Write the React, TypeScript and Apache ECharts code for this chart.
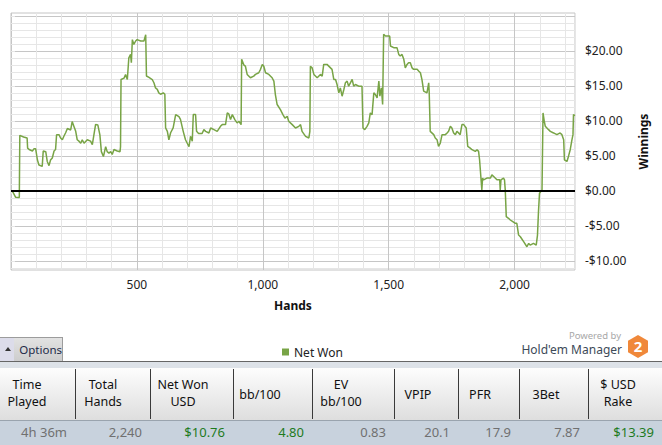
import React, { useEffect, useRef } from 'react';
import * as echarts from 'echarts';

// cumulative net won (hand number, dollars)
const hands = [
  0, 5, 18, 33, 35, 50, 64, 66, 72, 85, 91, 98, 105, 111, 124, 128, 138, 144, 151, 157,
  164, 171, 177, 181, 191, 197, 204, 210, 217, 224, 237, 243, 250, 257, 263, 270, 277, 283, 290, 303,
  316, 323, 336, 345, 353, 359, 367, 376, 382, 389, 396, 402, 409, 422, 433, 435, 437, 449, 455, 462,
  468, 475, 478, 482, 488, 495, 501, 515, 528, 535, 538, 548, 561, 568, 574, 581, 587, 594, 605, 611,
  614, 621, 627, 634, 644, 654, 667, 673, 684, 693, 707, 713, 720, 724, 733, 737, 745, 759, 766, 773,
  786, 793, 806, 819, 832, 839, 852, 859, 865, 872, 879, 889, 898, 905, 914, 916, 925, 931, 938, 951,
  964, 971, 984, 991, 998, 1004, 1011, 1024, 1037, 1044, 1050, 1057, 1070, 1080, 1088, 1097, 1103, 1117, 1130, 1143,
  1150, 1156, 1170, 1183, 1187, 1189, 1196, 1203, 1216, 1229, 1236, 1242, 1255, 1269, 1275, 1282, 1289, 1295, 1302, 1308,
  1315, 1322, 1328, 1335, 1341, 1348, 1355, 1361, 1368, 1381, 1394, 1398, 1405, 1414, 1421, 1427, 1434, 1441, 1447, 1454,
  1461, 1465, 1471, 1476, 1480, 1487, 1504, 1507, 1520, 1533, 1540, 1546, 1553, 1560, 1566, 1573, 1579, 1586, 1593, 1599,
  1613, 1619, 1626, 1632, 1639, 1652, 1659, 1661, 1665, 1679, 1685, 1692, 1698, 1705, 1712, 1725, 1732, 1738, 1745, 1751,
  1758, 1765, 1771, 1784, 1791, 1798, 1808, 1814, 1824, 1831, 1844, 1851, 1857, 1861, 1866, 1870, 1873, 1877, 1890, 1904,
  1910, 1917, 1930, 1941, 1943, 1946, 1956, 1960, 1963, 1967, 1976, 1983, 1993, 2003, 2009, 2016, 2023, 2036, 2049, 2056,
  2062, 2075, 2086, 2091, 2095, 2099, 2109, 2113, 2118, 2122, 2135, 2142, 2155, 2168, 2181, 2188, 2195, 2198, 2208, 2214,
  2221, 2228, 2232, 2234, 2240,
];
const winnings = [
  0, 0, -0.9, -0.96, 7.93, 7.7, 7.55, 6.1, 5.9, 5.7, 6.0, 6.0, 4.4, 3.7, 3.5, 5.7, 5.6, 4.2, 3.6, 4.4,
  4.7, 5.7, 5.9, 8.0, 8.0, 7.55, 7.3, 7.8, 8.3, 8.9, 8.7, 9.9, 9.2, 8.5, 7.3, 7.1, 6.8, 7.3, 6.8, 7.3,
  7.1, 6.6, 9.5, 9.4, 8.0, 5.6, 4.9, 6.3, 5.6, 5.4, 5.6, 5.2, 5.9, 5.7, 5.6, 6.3, 15.9, 16.1, 16.6, 15.9,
  19.0, 19.5, 18.3, 21.6, 20.9, 21.4, 21.6, 21.4, 21.4, 22.3, 16.4, 16.2, 15.9, 15.4, 14.7, 14.5, 14.0, 13.8, 14.0, 13.8,
  9.0, 8.5, 7.3, 8.3, 9.0, 10.9, 10.6, 10.2, 8.5, 7.3, 6.3, 7.8, 7.1, 10.9, 10.9, 8.5, 8.2, 8.2, 8.74, 8.5,
  8.27, 8.98, 8.74, 8.5, 9.22, 9.46, 9.46, 11.13, 10.98, 10.18, 10.89, 10.18, 9.7, 9.94, 9.46, 18.8, 17.96, 17.8, 16.63, 16.15,
  16.39, 16.63, 16.87, 17.35, 18.06, 17.8, 16.87, 16.63, 16.15, 15.67, 13.76, 12.33, 11.6, 10.89, 10.4, 10.65, 9.94, 9.46, 8.98, 9.22,
  9.46, 8.5, 7.79, 7.55, 8.5, 17.8, 17.56, 16.63, 16.15, 16.63, 16.39, 18.06, 18.06, 17.56, 17.35, 15.91, 15.91, 15.19, 14.0, 14.71,
  13.52, 14.48, 15.43, 15.67, 14.95, 15.43, 15.91, 14.95, 15.19, 14.95, 14.95, 8.98, 8.74, 9.22, 9.7, 11.13, 10.89, 14.0, 13.76, 13.28,
  15.67, 13.52, 14.71, 12.33, 22.36, 22.12, 22.12, 20.69, 20.45, 20.45, 19.49, 19.25, 19.49, 18.78, 17.56, 18.06, 18.3, 18.3, 17.56, 17.35,
  17.35, 17.11, 16.87, 15.91, 14.24, 14.0, 15.43, 14.0, 8.5, 8.03, 7.55, 7.31, 6.35, 6.83, 8.03, 8.03, 8.27, 8.5, 9.22, 8.98,
  8.27, 8.03, 8.5, 8.03, 9.46, 9.46, 8.98, 6.35, 6.11, 5.88, 5.64, 5.88, 5.64, 4.44, 2.05, 0.14, 1.82, 1.58, 1.82, 1.82,
  2.3, 2.05, 1.58, 1.58, 0.14, 1.58, 1.82, 1.58, 0.14, -3.68, -3.92, -4.16, -4.4, -4.64, -4.64, -6.31, -6.55, -7.26, -7.98, -7.5,
  -7.74, -7.5, -7.74, -6.31, -2.96, -0.33, 0.14, 11.13, 9.94, 9.22, 8.74, 8.5, 8.27, 8.03, 8.27, 8.03, 7.31, 4.44, 4.2, 4.92,
  5.88, 7.31, 8.03, 10.89, 10.76,
];

const yTicks = Array.from({ length: 37 }, (_, i) => i - 11);
const yLabels = [-10, -5, 0, 5, 10, 15, 20];

const headers = [
  { label: ['Time', 'Played'], cx: 27 },
  { label: ['Total', 'Hands'], cx: 103 },
  { label: ['Net Won', 'USD'], cx: 183 },
  { label: ['bb/100'], cx: 260 },
  { label: ['EV', 'bb/100'], cx: 341 },
  { label: ['VPIP'], cx: 418 },
  { label: ['PFR'], cx: 480 },
  { label: ['3Bet'], cx: 546 },
  { label: ['$ USD', 'Rake'], cx: 618 },
];
const colEdges = [75, 150, 233, 312, 394, 458, 519, 588, 662];
const stats = ['4h 36m', '2,240', '$10.76', '4.80', '0.83', '20.1', '17.9', '7.87', '$13.39'];
const statGreen = [false, false, true, true, false, false, false, false, true];

const FONT = '"Noto Sans", "Open Sans", sans-serif';
const GREEN = '#78a446';
const LIGHT = '#e6e6e6';
const DARK = '#c6c6c6';

const App: React.FC = () => {
  const chartRef = useRef<HTMLDivElement>(null);

  useEffect(() => {
    if (!chartRef.current) return;
    const chart = echarts.init(chartRef.current, undefined, { renderer: 'svg' });

    const option = {
      animation: false,
      textStyle: { fontFamily: FONT },
      grid: {
        left: 11, right: 87, top: 13, bottom: 92,
        show: true, borderColor: '#c4c4c4', borderWidth: 1,
      },
      legend: {
        data: ['Net Won'],
        left: 277, top: 341,
        icon: 'rect', itemWidth: 7, itemHeight: 7, itemGap: 6,
        textStyle: { fontSize: 12, color: '#222', fontFamily: FONT },
      },
      xAxis: {
        type: 'value',
        min: 0, max: 2240, interval: 100,
        name: 'Hands', nameLocation: 'middle', nameGap: 29,
        nameTextStyle: { fontWeight: 'bold', fontSize: 12, color: '#111', fontFamily: FONT },
        axisLine: { show: false },
        axisTick: { show: true, length: 3, lineStyle: { color: LIGHT } },
        axisLabel: {
          margin: 8, fontSize: 12, color: '#222',
          formatter: (v: number) => (v > 0 && v % 500 === 0 ? v.toLocaleString('en-US') : ''),
        },
        splitLine: { show: true, lineStyle: { color: [DARK, LIGHT, LIGHT, LIGHT, LIGHT], width: 1 } },
      },
      yAxis: {
        type: 'value', position: 'right',
        min: -11.3, max: 25.4,
        name: 'Winnings', nameLocation: 'middle', nameRotate: 90, nameGap: 52,
        nameTextStyle: { fontWeight: 'bold', fontSize: 12, color: '#111', fontFamily: FONT },
        axisLine: { show: false },
        axisTick: { show: true, length: 4, customValues: yTicks, lineStyle: { color: LIGHT } },
        axisLabel: {
          customValues: yLabels, margin: 10, fontSize: 12, color: '#222',
          formatter: (v: number) => (v < 0 ? '-$' : '$') + Math.abs(v).toFixed(2),
        },
        splitLine: { show: true, lineStyle: { color: [LIGHT, DARK, LIGHT, LIGHT, LIGHT], width: 1 } },
      },
      series: [
        {
          name: 'Net Won',
          type: 'line',
          data: hands.map((h, i) => [h, winnings[i]]),
          showSymbol: false,
          lineStyle: { color: GREEN, width: 1.5 },
          itemStyle: { color: GREEN },
          markLine: {
            silent: true, symbol: 'none', label: { show: false },
            lineStyle: { color: '#000', width: 2, type: 'solid' },
            data: [{ yAxis: 0 }],
          },
        },
      ],
    };

    chart.setOption(option);
    return () => {
      chart.dispose();
    };
  }, []);

  return (
    <div style={{ position: 'absolute', left: 0, top: 0, width: 662, height: 445, background: '#fff', overflow: 'hidden', fontFamily: FONT }}>
      <div ref={chartRef} style={{ position: 'absolute', left: 0, top: 0, width: 662, height: 362 }} />

      {/* options button */}
      <div style={{ position: 'absolute', left: 0, top: 337, width: 63, height: 24, border: '1px solid #9c9c9c', borderBottom: 'none', borderLeft: 'none', display: 'flex', boxSizing: 'border-box' }}>
        <div style={{ width: 16, background: '#dcdcea', position: 'relative' }}>
          <div style={{ position: 'absolute', left: 5, top: 9, width: 0, height: 0, borderLeft: '3px solid transparent', borderRight: '3px solid transparent', borderBottom: '4px solid #333' }} />
        </div>
        <div style={{ flex: 1, background: 'linear-gradient(#e2e2e2, #cdcdcd)', fontSize: 11.5, color: '#1c2a48', lineHeight: '23px', paddingLeft: 5 }}>Options</div>
      </div>

      {/* powered by */}
      <div style={{ position: 'absolute', right: 41, top: 330, fontSize: 9.5, color: '#a8a8a8', lineHeight: '12px' }}>Powered by</div>
      <div style={{ position: 'absolute', right: 40, top: 342, fontSize: 12, color: '#3d4a58', lineHeight: '15px' }}>Hold'em Manager</div>
      <svg style={{ position: 'absolute', left: 627, top: 335 }} width={22} height={23} viewBox="0 0 22 23">
        <polygon points="11,0 21,5.7 21,17.3 11,23 1,17.3 1,5.7" fill="#f0883a" />
        <text x={11} y={17} textAnchor="middle" fontSize={15} fontWeight="bold" fill="#fff" fontFamily={FONT}>2</text>
      </svg>

      {/* table */}
      <div style={{ position: 'absolute', left: 0, top: 361, width: 662, height: 1, background: '#666' }} />
      <div style={{ position: 'absolute', left: 0, top: 362, width: 662, height: 6, background: '#dde2e8' }} />
      <div style={{ position: 'absolute', left: 0, top: 368, width: 662, height: 52, background: 'linear-gradient(#fdfdfd, #dedede)' }} />
      {colEdges.slice(0, -1).map((x) => (
        <div key={x} style={{ position: 'absolute', left: x, top: 369, width: 1, height: 50, background: '#3a3a3a' }} />
      ))}
      {headers.map((h) => (
        <div key={h.label.join()} style={{ position: 'absolute', left: h.cx - 40, width: 80, top: h.label.length > 1 ? 376 : 386, textAlign: 'center', fontSize: 12.5, lineHeight: '17px', color: '#111' }}>
          {h.label.map((l) => <div key={l}>{l}</div>)}
        </div>
      ))}
      <div style={{ position: 'absolute', left: 0, top: 420, width: 662, height: 1, background: '#9aa4ae' }} />
      <div style={{ position: 'absolute', left: 0, top: 421, width: 662, height: 24, background: '#c8d2dd' }} />
      {stats.map((s, i) => (
        <div key={i} style={{ position: 'absolute', left: (i === 0 ? 0 : colEdges[i - 1]), width: colEdges[i] - (i === 0 ? 0 : colEdges[i - 1]) - 8, top: 423, textAlign: 'right', fontSize: 13, lineHeight: '18px', color: statGreen[i] ? '#1e7b1e' : '#707070' }}>
          {s}
        </div>
      ))}
    </div>
  );
};

export default App;
